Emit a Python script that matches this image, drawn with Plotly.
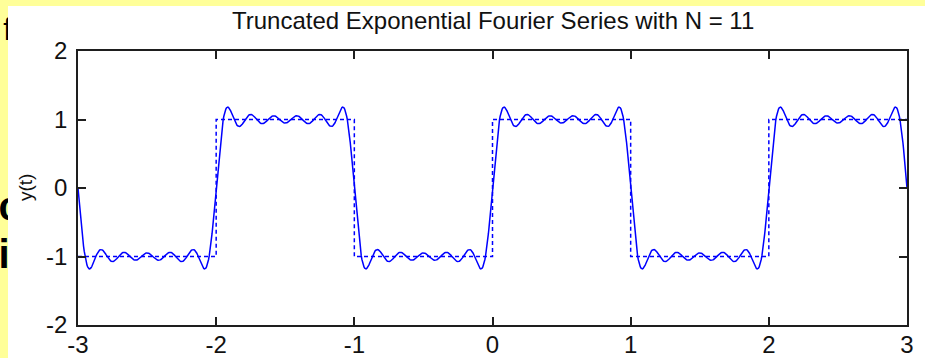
import numpy as np
import plotly.graph_objects as go

# Exponential Fourier coefficients |c_n| of the +/-1 square wave (period 2), odd n only
harmonics = [1, 3, 5, 7, 9, 11]
coef_mag = [0.6366, 0.2122, 0.1273, 0.0909, 0.0707, 0.0579]

# Ideal square wave corners (dashed reference)
square_t = [-3, -2, -2, -1, -1, 0, 0, 1, 1, 2, 2, 3]
square_y = [-1, -1, 1, 1, -1, -1, 1, 1, -1, -1, 1, 1]

x_ticks = [-3, -2, -1, 0, 1, 2, 3]
y_ticks = [-2, -1, 0, 1, 2]

title_text = "Truncated Exponential Fourier Series with N = 11"
ylabel_text = "y(t)"

# Slide text peeking out at the left edge of the figure window
slide_letters = ["f", "c", "i"]

W, H = 925, 358
FONT = "Liberation Sans, Arial, sans-serif"
BLUE = "#0000FF"
YELLOW = "#FFFF99"
INK = "#111111"

# Truncated series: sum over n = -N..N of c_n e^{j n pi t}, with c_n = |c_n| / j for n > 0
t = np.linspace(-3, 3, 1201)
y = np.zeros_like(t)
for n, c in zip(harmonics, coef_mag):
    cn = c / 1j
    y += np.real(cn * np.exp(1j * n * np.pi * t) + np.conj(cn) * np.exp(-1j * n * np.pi * t))

# plot-area placement in pixels
L, R, T, B = 78, 907, 51, 325
# white figure window (pixels)
WIN_X0, WIN_Y0 = 8, 6

fig = go.Figure()

# --- page layer (pixel coordinates): slide letters, then the white window over them
fig.add_trace(go.Scatter(x=[7.6], y=[32], text=[slide_letters[0]], mode="text",
                         textposition="middle center",
                         textfont=dict(family=FONT, size=31, color="black"),
                         xaxis="x", yaxis="y", hoverinfo="skip", showlegend=False))
fig.add_trace(go.Scatter(x=[9.5, 4.1], y=[210, 258], text=slide_letters[1:], mode="text",
                         textposition="middle center",
                         textfont=dict(family=FONT, size=40, color="black", weight="bold"),
                         xaxis="x", yaxis="y", hoverinfo="skip", showlegend=False))
fig.add_trace(go.Scatter(x=[WIN_X0, W, W, WIN_X0, WIN_X0], y=[WIN_Y0, WIN_Y0, H, H, WIN_Y0],
                         mode="lines", fill="toself", fillcolor="white",
                         line=dict(width=0, color="white"),
                         xaxis="x", yaxis="y", hoverinfo="skip", showlegend=False))

# --- the chart itself
fig.add_trace(go.Scatter(x=square_t, y=square_y, mode="lines",
                         line=dict(color=BLUE, width=1.5, dash="4px,3px"),
                         xaxis="x2", yaxis="y2", hoverinfo="skip", showlegend=False))
fig.add_trace(go.Scatter(x=t, y=y, mode="lines",
                         line=dict(color=BLUE, width=1.5),
                         xaxis="x2", yaxis="y2", hoverinfo="skip", showlegend=False))

axis_common = dict(showline=True, linecolor="#1e1e1e", linewidth=1.5, mirror="ticks",
                   ticks="inside", ticklen=8, tickwidth=1.5, tickcolor="#1e1e1e",
                   showgrid=False, zeroline=False, automargin=False,
                   tickfont=dict(family=FONT, size=24, color=INK))

fig.update_layout(
    width=W, height=H,
    margin=dict(l=0, r=0, t=0, b=0, autoexpand=False),
    paper_bgcolor=YELLOW,
    plot_bgcolor="rgba(0,0,0,0)",
    xaxis=dict(domain=[0, 1], range=[0, W], visible=False, fixedrange=True, automargin=False),
    yaxis=dict(domain=[0, 1], range=[H, 0], visible=False, fixedrange=True, automargin=False),
    xaxis2=dict(domain=[L / W, R / W], range=[-3, 3], tickvals=x_ticks,
                ticktext=[str(v) for v in x_ticks], anchor="y2",
                ticklabelstandoff=-3, **axis_common),
    yaxis2=dict(domain=[(H - B) / H, (H - T) / H], range=[-2, 2], tickvals=y_ticks,
                ticktext=[str(v) for v in y_ticks], anchor="x2",
                ticklabelstandoff=4, **axis_common),
    annotations=[
        dict(text=title_text, xref="paper", yref="paper",
             x=(L + R) / 2 / W, y=(H - 20.5) / H, xanchor="center", yanchor="middle",
             showarrow=False, font=dict(family=FONT, size=24, color=INK)),
        dict(text=ylabel_text, xref="paper", yref="paper",
             x=25 / W, y=(H - 188) / H, xanchor="center", yanchor="middle",
             textangle=-90, showarrow=False,
             font=dict(family=FONT, size=19, color=INK)),
    ],
)

fig.write_html("out.html")
